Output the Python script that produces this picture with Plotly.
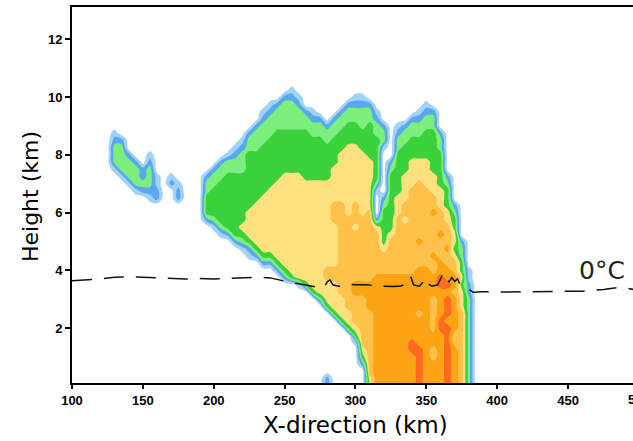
import plotly.graph_objects as go

# ---------------- data ----------------
# horizontal positions of the reflectivity samples (km)
grid_km = [120, 125, 130, 135, 140, 145, 150, 155, 160, 165, 170, 175, 180, 185, 190,
           195, 200, 205, 210, 215, 220, 225, 230, 235, 240, 245, 250, 255, 260, 265,
           270, 275, 280, 285, 290, 295, 300, 305, 310, 315, 320, 325, 330, 335, 340,
           345, 350, 355, 360, 365, 370, 375, 380, 385, 390]
# heights of the samples, top to bottom (km)
grid_h = [10.75, 10.5, 10.25, 10.0, 9.75, 9.5, 9.25, 9.0, 8.75, 8.5, 8.25, 8.0,
          7.75, 7.5, 7.25, 7.0, 6.75, 6.5, 6.25, 6.0, 5.75, 5.5, 5.25, 5.0,
          4.75, 4.5, 4.25, 4.0, 3.75, 3.5, 3.25, 3.0, 2.75, 2.5, 2.25, 2.0,
          1.75, 1.5, 1.25, 1.0, 0.75, 0.5, 0.25, 0.0]
# reflectivity class (0 none ... 8 strongest), one string per km column, top -> bottom
refl_columns = [
    "0000 0000 0000 0000 0000 0000 0000 0000 0000 0000 0000",  # 120
    "0000 0000 0000 0000 0000 0000 0000 0000 0000 0000 0000",  # 125
    "0000 0000 1233 3100 0000 0000 0000 0000 0000 0000 0000",  # 130
    "0000 0000 0233 3310 0000 0000 0000 0000 0000 0000 0000",  # 135
    "0000 0000 0002 3331 0000 0000 0000 0000 0000 0000 0000",  # 140
    "0000 0000 0000 2333 1000 0000 0000 0000 0000 0000 0000",  # 145
    "0000 0000 0000 0223 2000 0000 0000 0000 0000 0000 0000",  # 150
    "0000 0000 0001 2333 2100 0000 0000 0000 0000 0000 0000",  # 155
    "0000 0000 0000 0011 2200 0000 0000 0000 0000 0000 0000",  # 160
    "0000 0000 0000 0000 0000 0000 0000 0000 0000 0000 0000",  # 165
    "0000 0000 0000 0012 0000 0000 0000 0000 0000 0000 0000",  # 170
    "0000 0000 0000 0001 2200 0000 0000 0000 0000 0000 0000",  # 175
    "0000 0000 0000 0000 0000 0000 0000 0000 0000 0000 0000",  # 180
    "0000 0000 0000 0000 0000 0000 0000 0000 0000 0000 0000",  # 185
    "0000 0000 0000 0000 0000 0000 0000 0000 0000 0000 0000",  # 190
    "0000 0000 0000 0023 3444 2000 0000 0000 0000 0000 0000",  # 195
    "0000 0000 0000 0233 4444 3100 0000 0000 0000 0000 0000",  # 200
    "0000 0000 0000 2334 4444 4310 0000 0000 0000 0000 0000",  # 205
    "0000 0000 0001 3344 4444 4420 0000 0000 0000 0000 0000",  # 210
    "0000 0000 0012 3344 4444 4442 0000 0000 0000 0000 0000",  # 215
    "0000 0000 0123 3344 4444 4543 1000 0000 0000 0000 0000",  # 220
    "0000 0000 2334 4444 4445 5554 2100 0000 0000 0000 0000",  # 225
    "0000 0002 3334 4444 4455 5555 4200 0000 0000 0000 0000",  # 230
    "0000 0123 3344 4444 4555 5555 5420 0000 0000 0000 0000",  # 235
    "0000 1233 3444 4444 5555 5555 5420 0000 0000 0000 0000",  # 240
    "0000 2333 4444 4445 5555 5555 5542 0000 0000 0000 0000",  # 245
    "0002 3333 4444 4455 5555 5555 5554 2000 0000 0000 0000",  # 250
    "0012 3333 4444 4455 5555 5555 5555 4000 0000 0000 0000",  # 255
    "0001 2333 4444 4455 5555 5555 5555 5100 0000 0000 0000",  # 260
    "0000 0233 4444 4445 5555 5555 5555 5400 0000 0000 0000",  # 265
    "0000 0123 3444 4445 5555 5555 5555 5540 0000 0000 0000",  # 270
    "0000 0023 3444 4445 5555 5555 5555 5553 0000 0000 0000",  # 275
    "0000 0002 3344 4445 5555 5555 5556 6555 4000 0000 0022",  # 280
    "0000 0023 3444 4555 5566 6555 5556 6555 5400 0000 0000",  # 285
    "0000 0233 4445 5555 5566 6666 6666 6665 5540 0000 0000",  # 290
    "0000 2334 4455 5555 5555 6666 6666 6666 6554 0000 0000",  # 295
    "0001 2334 4455 5555 5566 6566 6666 6776 6665 4100 0000",  # 300
    "0001 2333 4445 5555 5555 6666 6666 6776 6666 6654 2000",  # 305
    "0000 2334 4444 5555 5556 6666 6666 6777 7666 6666 6655",  # 310
    "0000 0123 3444 4443 1000 2566 6666 7777 7777 7777 7777",  # 315
    "0000 0002 3310 0000 0234 4444 5666 7777 7777 7777 7777",  # 320
    "0000 0000 0000 2344 4444 4456 6666 7777 7777 7777 7777",  # 325
    "0000 0001 2334 4444 4555 6666 6666 7777 7777 7777 7777",  # 330
    "0000 0002 3344 4455 5566 5666 6666 7777 7777 7777 7777",  # 335
    "0000 0023 3444 5555 6666 6666 6666 7777 7777 7887 7777",  # 340
    "0000 0123 3444 5556 6666 6667 6667 7777 7677 7788 8888",  # 345
    "0000 1233 4444 5555 6666 6666 6667 7777 7777 7777 7777",  # 350
    "0000 0233 4444 4455 5667 6666 6766 7776 6666 7766 7777",  # 355
    "0000 0000 2334 4444 5556 6676 6677 8877 7788 7777 7777",  # 360
    "0000 0000 0000 0023 4445 5666 7667 7878 8878 8888 8888",  # 365
    "0000 0000 0000 0000 0023 4455 4566 7767 7777 6677 7777",  # 370
    "0000 0000 0000 0000 0000 0002 3344 5455 5666 6666 6666",  # 375
    "0000 0000 0000 0000 0000 0000 0001 1223 3333 3333 3333",  # 380
    "0000 0000 0000 0000 0000 0000 0000 0000 0000 0000 0000",  # 385
    "0000 0000 0000 0000 0000 0000 0000 0000 0000 0000 0000",  # 390
]
# colour of each reflectivity class
class_colors = ["#ffffff", "#a3d2f7", "#58a8f1", "#7bee7b", "#3bd13b",
                "#fee17e", "#fec24b", "#fca514", "#ff6b1f"]

# 0 degC level (dashed line)
fl_km = [100, 110, 120, 130, 140, 150, 160, 170, 180, 190, 200, 210, 220, 230, 240,
         250, 255, 262, 270, 275, 278, 280, 282, 284, 288, 295, 300, 308, 315, 322,
         327, 332, 337, 339, 341, 345, 347, 349, 351, 354, 358, 360, 362, 364, 366,
         368, 370, 372, 374, 376, 380, 383, 390, 400, 420, 440, 460, 475, 485, 492, 497]
fl_h = [3.64, 3.66, 3.70, 3.76, 3.78, 3.76, 3.74, 3.72, 3.70, 3.72, 3.70, 3.72, 3.74, 3.76, 3.74,
        3.62, 3.57, 3.52, 3.45, 3.40, 3.42, 3.60, 3.67, 3.50, 3.45, 3.52, 3.50, 3.50, 3.46, 3.44,
        3.44, 3.46, 3.55, 3.78, 3.50, 3.45, 3.55, 3.74, 3.55, 3.45, 3.50, 3.70, 3.91, 3.75, 3.60,
        3.75, 3.62, 3.70, 3.50, 3.43, 3.35, 3.24, 3.26, 3.25, 3.26, 3.27, 3.28, 3.34, 3.40, 3.38, 3.33]

x_ticks = [100, 150, 200, 250, 300, 350, 400, 450, 500]
y_ticks = [2, 4, 6, 8, 10, 12]
x_range = [100, 495.8]
y_range = [0.1, 13.12]

# ---------------- build figure ----------------
cols = [s.replace(" ", "") for s in refl_columns]
rows_top_down = [[int(cols[c][r]) for c in range(len(grid_km))] for r in range(len(grid_h))]
z = rows_top_down[::-1]
h_up = grid_h[::-1]

n = len(class_colors) - 1
cscale = []
for k, col in enumerate(class_colors):
    lo = max(0.0, (k - 0.5) / n)
    hi = min(1.0, (k + 0.5) / n)
    cscale.append([lo, col])
    cscale.append([hi, col])

fig = go.Figure()
fig.add_trace(go.Contour(
    x=grid_km, y=h_up, z=z,
    autocontour=False,
    contours=dict(start=0.5, end=n - 0.5, size=1, coloring="fill", showlines=False),
    line=dict(width=0),
    colorscale=cscale, showscale=False, hoverinfo="skip",
))
fig.add_trace(go.Scatter(
    x=fl_km, y=fl_h, mode="lines",
    line=dict(color="#111111", width=1.5, dash="20px,12px"),
    hoverinfo="skip", showlegend=False,
))

tickfont = dict(family="Liberation Sans", size=13, color="black", weight="bold")
axis_common = dict(showgrid=False, zeroline=False, showline=True, linewidth=2,
                   linecolor="black", ticks="outside", tickcolor="black",
                   tickwidth=1.5, tickfont=tickfont)

fig.update_layout(
    width=633, height=441,
    margin=dict(l=72, r=0, t=7, b=58),
    paper_bgcolor="white", plot_bgcolor="white",
    showlegend=False,
    xaxis=dict(range=x_range, tickvals=x_ticks, ticklen=4, mirror=True, **axis_common),
    yaxis=dict(range=y_range, tickvals=y_ticks, ticklen=5, **axis_common),
)

# tick label for 500 which sits beyond the right edge of the plotting area
fig.add_annotation(
    text=str(x_ticks[-1]), xref="paper", yref="paper",
    x=(x_ticks[-1] - x_range[0]) / (x_range[1] - x_range[0]), y=0,
    yanchor="top", xanchor="center", yshift=-7, showarrow=False, font=tickfont,
)
fig.add_annotation(
    text="0°C", x=474, y=3.98, xref="x", yref="y", showarrow=False,
    font=dict(family="DejaVu Sans", size=25, color="#222222"),
    xanchor="center", yanchor="middle",
)
fig.add_annotation(
    text="X-direction (km)", xref="paper", yref="paper", x=0.5045, y=-0.112,
    xanchor="center", yanchor="middle", showarrow=False,
    font=dict(family="DejaVu Sans", size=23, color="black"),
)
fig.add_annotation(
    text="Height (km)", xref="paper", yref="paper", x=-0.075, y=0.497,
    xanchor="center", yanchor="middle", textangle=-90, showarrow=False,
    font=dict(family="DejaVu Sans", size=22, color="black"),
)

fig.write_html("out.html")
